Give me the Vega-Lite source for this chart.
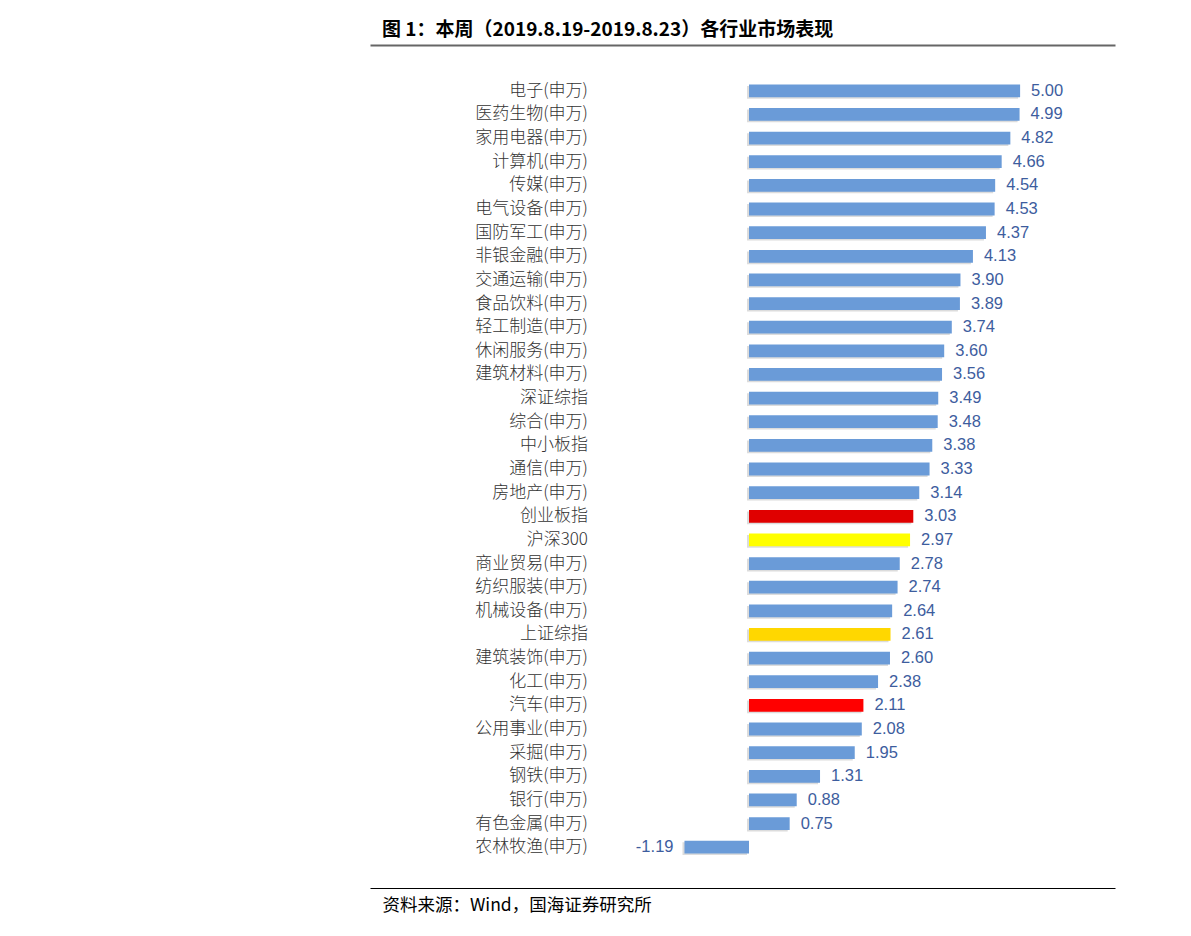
{
  "$schema": "https://vega.github.io/schema/vega-lite/v6.json",
  "autosize": "none",
  "width": 745,
  "height": 780,
  "padding": {"left": 370, "top": 79, "right": 76, "bottom": 77},
  "background": "white",
  "config": {"view": {"stroke": null}},
  "title": {
    "text": "图 1：本周（2019.8.19-2019.8.23）各行业市场表现",
    "anchor": "start",
    "font": "Noto Sans CJK SC",
    "fontSize": 19,
    "fontWeight": "bold",
    "color": "#000000",
    "dx": 12,
    "offset": 5
  },
  "data": {
    "values": [
      {"name": "电子(申万)", "value": 5.00, "kind": "industry"},
      {"name": "医药生物(申万)", "value": 4.99, "kind": "industry"},
      {"name": "家用电器(申万)", "value": 4.82, "kind": "industry"},
      {"name": "计算机(申万)", "value": 4.66, "kind": "industry"},
      {"name": "传媒(申万)", "value": 4.54, "kind": "industry"},
      {"name": "电气设备(申万)", "value": 4.53, "kind": "industry"},
      {"name": "国防军工(申万)", "value": 4.37, "kind": "industry"},
      {"name": "非银金融(申万)", "value": 4.13, "kind": "industry"},
      {"name": "交通运输(申万)", "value": 3.90, "kind": "industry"},
      {"name": "食品饮料(申万)", "value": 3.89, "kind": "industry"},
      {"name": "轻工制造(申万)", "value": 3.74, "kind": "industry"},
      {"name": "休闲服务(申万)", "value": 3.60, "kind": "industry"},
      {"name": "建筑材料(申万)", "value": 3.56, "kind": "industry"},
      {"name": "深证综指", "value": 3.49, "kind": "industry"},
      {"name": "综合(申万)", "value": 3.48, "kind": "industry"},
      {"name": "中小板指", "value": 3.38, "kind": "industry"},
      {"name": "通信(申万)", "value": 3.33, "kind": "industry"},
      {"name": "房地产(申万)", "value": 3.14, "kind": "industry"},
      {"name": "创业板指", "value": 3.03, "kind": "gem"},
      {"name": "沪深300", "value": 2.97, "kind": "hs300"},
      {"name": "商业贸易(申万)", "value": 2.78, "kind": "industry"},
      {"name": "纺织服装(申万)", "value": 2.74, "kind": "industry"},
      {"name": "机械设备(申万)", "value": 2.64, "kind": "industry"},
      {"name": "上证综指", "value": 2.61, "kind": "sse"},
      {"name": "建筑装饰(申万)", "value": 2.60, "kind": "industry"},
      {"name": "化工(申万)", "value": 2.38, "kind": "industry"},
      {"name": "汽车(申万)", "value": 2.11, "kind": "focus"},
      {"name": "公用事业(申万)", "value": 2.08, "kind": "industry"},
      {"name": "采掘(申万)", "value": 1.95, "kind": "industry"},
      {"name": "钢铁(申万)", "value": 1.31, "kind": "industry"},
      {"name": "银行(申万)", "value": 0.88, "kind": "industry"},
      {"name": "有色金属(申万)", "value": 0.75, "kind": "industry"},
      {"name": "农林牧渔(申万)", "value": -1.19, "kind": "industry"}
    ]
  },
  "encoding": {
    "y": {
      "field": "name",
      "type": "nominal",
      "sort": null,
      "axis": null,
      "scale": {"paddingInner": 0.46, "paddingOuter": 0.23}
    }
  },
  "layer": [
    {
      "mark": {"type": "bar", "color": "#dcdcdc", "xOffset": -2, "yOffset": 1.5},
      "encoding": {
        "x": {
          "field": "value",
          "type": "quantitative",
          "scale": {"domain": [-6.99, 6.75], "nice": false, "zero": false},
          "axis": {
            "orient": "top",
            "offset": 34,
            "domain": true,
            "domainColor": "#666666",
            "domainWidth": 2,
            "labels": false,
            "ticks": false,
            "grid": false,
            "title": null
          }
        }
      }
    },
    {
      "mark": {"type": "bar"},
      "encoding": {
        "x": {
          "field": "value",
          "type": "quantitative",
          "axis": {
            "orient": "bottom",
            "offset": 29,
            "domain": true,
            "domainColor": "#000000",
            "domainWidth": 1,
            "labels": false,
            "ticks": false,
            "grid": false,
            "title": "资料来源：Wind，国海证券研究所",
            "titleFont": "Noto Sans CJK SC",
            "titleFontSize": 17.5,
            "titleFontWeight": "normal",
            "titleColor": "#000000",
            "titleAlign": "left",
            "titleBaseline": "middle",
            "titleX": 12,
            "titleY": 17
          }
        },
        "color": {
          "field": "kind",
          "type": "nominal",
          "legend": null,
          "scale": {
            "domain": ["industry", "gem", "hs300", "sse", "focus"],
            "range": ["#6a9bd8", "#e00000", "#ffff00", "#ffd700", "#ff0000"]
          }
        }
      }
    },
    {
      "mark": {"type": "text", "align": "right", "baseline": "middle", "font": "Noto Sans CJK SC", "fontSize": 17, "fontWeight": 300, "color": "#333333"},
      "encoding": {
        "x": {"datum": -2.97, "type": "quantitative", "axis": null},
        "text": {"field": "name"}
      }
    },
    {
      "transform": [{"filter": "datum.value >= 0"}],
      "mark": {"type": "text", "align": "left", "baseline": "middle", "dx": 11, "font": "Liberation Sans", "fontSize": 16.5, "color": "#3d5d9e"},
      "encoding": {
        "x": {"field": "value", "type": "quantitative", "axis": null},
        "text": {"field": "value", "type": "quantitative", "format": ".2f"}
      }
    },
    {
      "transform": [{"filter": "datum.value < 0"}],
      "mark": {"type": "text", "align": "right", "baseline": "middle", "dx": -11, "font": "Liberation Sans", "fontSize": 16.5, "color": "#3d5d9e", "text": {"expr": "'-' + format(-datum.value, '.2f')"}},
      "encoding": {
        "x": {"field": "value", "type": "quantitative", "axis": null}
      }
    }
  ],
  "resolve": {"axis": {"x": "independent"}}
}
